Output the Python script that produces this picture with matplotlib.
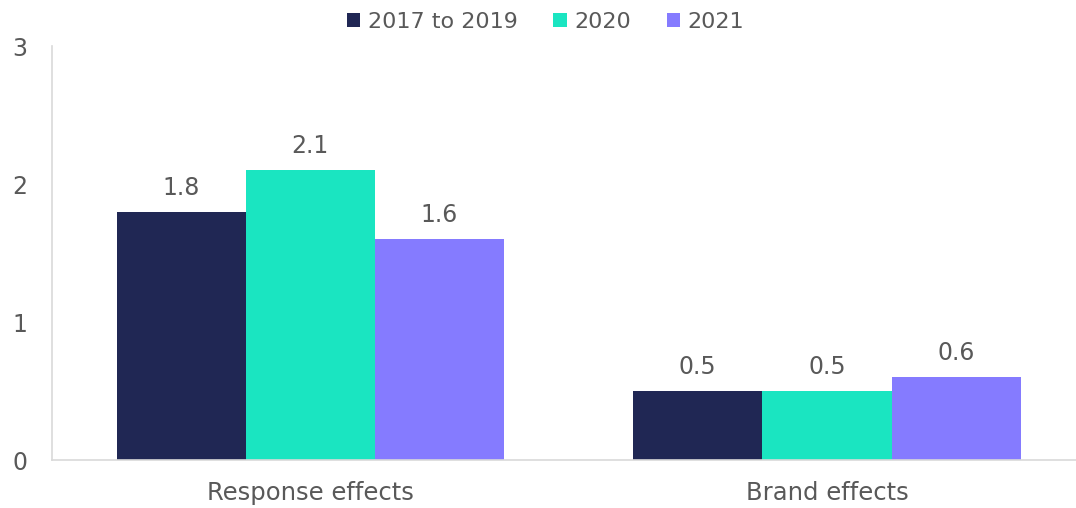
import matplotlib.pyplot as plt
import numpy as np

categories = ['Response effects', 'Brand effects']
series = ['2017 to 2019', '2020', '2021']
v_2017_2019 = [1.8, 0.5]
v_2020 = [2.1, 0.5]
v_2021 = [1.6, 0.6]
colors = ['#202754', '#1ae5c1', '#857bff']

plt.rcParams['font.family'] = ['DejaVu Sans']
grey = '#595959'

fig = plt.figure(figsize=(10.76, 5.08), dpi=100)
ax = fig.add_axes([52 / 1076, 48 / 508, (1076 - 52) / 1076, (460 - 46) / 508])

x = np.arange(len(categories))
w = 0.25
for i, (name, vals) in enumerate(zip(series, [v_2017_2019, v_2020, v_2021])):
    bars = ax.bar(x + (i - 1) * w, vals, w, color=colors[i], label=name)
    for b, v in zip(bars, vals):
        ax.text(b.get_x() + b.get_width() / 2, v + 0.085, f'{v:.1f}',
                ha='center', va='bottom', fontsize=17, color=grey)

ax.set_xlim(-0.5, 1.482)
ax.set_ylim(0, 3)
ax.set_yticks([0, 1, 2, 3])
ax.set_xticks(x)
ax.set_xticklabels(categories)
ax.tick_params(length=0, labelsize=17, colors=grey)
ax.tick_params(axis='x', pad=15, labelsize=17.5)
ax.tick_params(axis='y', pad=18)
for s in ['top', 'right']:
    ax.spines[s].set_visible(False)
for s in ['left', 'bottom']:
    ax.spines[s].set_color('#d9d9d9')
    ax.spines[s].set_linewidth(1.2)

ax.legend(loc='center', bbox_to_anchor=(0.482, 1.058), ncol=3, frameon=False,
          fontsize=16, labelcolor=grey, handlelength=0.6, handleheight=0.6,
          handletextpad=0.35, columnspacing=1.6)

fig.savefig('out.png', dpi=100)
